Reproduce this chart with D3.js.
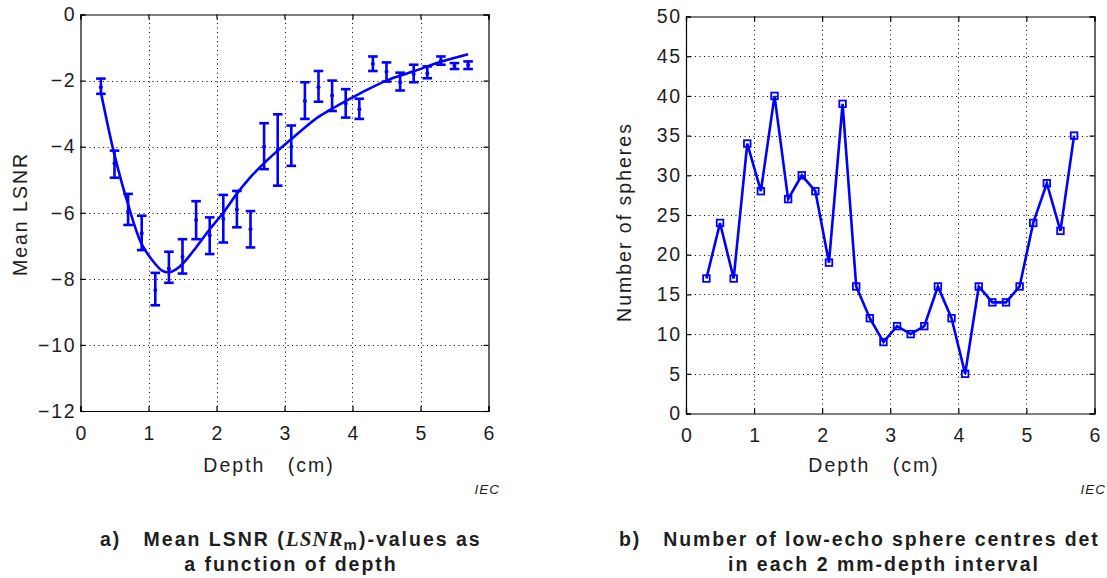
<!DOCTYPE html>
<html>
<head>
<meta charset="utf-8">
<script src="https://cdn.jsdelivr.net/npm/d3@7"></script>
<style>
  html, body { margin: 0; padding: 0; background: #fff; overflow: hidden; }
  svg { display: block; font-family: "Liberation Sans", Arial, sans-serif; }
</style>
</head>
<body>
<svg id="chart" width="1107" height="578"></svg>
<script>
// ---- Panel a: mean LSNR per depth bin, with error bars and fitted curve ----
const depth = [0.3,0.5,0.7,0.9,1.1,1.3,1.5,1.7,1.9,2.1,2.3,2.5,2.7,2.9,3.1,3.3,3.5,3.7,3.9,4.1,4.3,4.5,4.7,4.9,5.1,5.3,5.5,5.7];
const lsnrMean = [-2.2,-4.5,-5.97,-6.62,-8.34,-7.69,-7.33,-6.22,-6.68,-6.19,-5.9,-6.5,-4.0,-4.1,-4.0,-2.62,-2.2,-2.45,-2.69,-2.87,-1.5,-1.73,-2.05,-1.8,-1.78,-1.4,-1.56,-1.53];
const lsnrLow  = [-2.4,-4.94,-6.37,-7.13,-8.8,-8.12,-7.84,-6.8,-7.25,-6.9,-6.44,-7.05,-4.68,-5.18,-4.58,-3.16,-2.64,-2.92,-3.12,-3.16,-1.71,-2.03,-2.3,-2.05,-1.93,-1.52,-1.65,-1.65];
const lsnrHigh = [-1.94,-4.12,-5.43,-6.09,-7.82,-7.18,-6.8,-5.65,-6.14,-5.46,-5.34,-5.95,-3.29,-3.02,-3.36,-2.05,-1.71,-2.0,-2.26,-2.55,-1.27,-1.45,-1.76,-1.52,-1.57,-1.27,-1.47,-1.42];

// Smooth fit through the LSNR means
const fitDepth = [0.3,0.5,0.7,0.9,1.1,1.2,1.3,1.4,1.5,1.7,1.9,2.1,2.3,2.5,2.7,2.9,3.1,3.3,3.5,3.7,3.9,4.1,4.5,4.9,5.3,5.7];
const fitLsnr  = [-2.35,-4.25,-5.75,-6.95,-7.55,-7.75,-7.8,-7.72,-7.55,-7.05,-6.5,-6.0,-5.42,-4.92,-4.5,-4.12,-3.77,-3.42,-3.1,-2.85,-2.62,-2.4,-2.0,-1.72,-1.43,-1.2];

// ---- Panel b: number of detected sphere centres per 2 mm depth interval ----
const sphereCount = [17,24,17,34,28,40,27,30,28,19,39,16,12,9,11,10,11,16,12,5,16,14,14,16,24,29,23,35];

// Tick values
const xTicks = [0,1,2,3,4,5,6];
const yTicksA = [0,-2,-4,-6,-8,-10,-12];
const yTicksB = [0,5,10,15,20,25,30,35,40,45,50];

const BLUE = "#0000ff";
const INK = "#1e1e1e";
const svg = d3.select("#chart");

const fmt = v => (v < 0 ? "\u2212" + Math.abs(v) : String(v));

function panel(xScale, yScale, yTicks) {
  const g = svg.append("g");
  const [x0, x1] = xScale.range();
  const [y0, y1] = yScale.range(); // y0 bottom, y1 top

  // dotted grid
  const grid = g.append("g").attr("stroke", "#000").attr("stroke-width", 1)
    .attr("stroke-dasharray", "1,3.5");
  grid.selectAll(".gx").data(xTicks.slice(1, -1)).join("line")
    .attr("x1", d => Math.round(xScale(d)) + 0.5).attr("x2", d => Math.round(xScale(d)) + 0.5)
    .attr("y1", y0).attr("y2", y1);
  const ye = d3.extent(yScale.domain());
  grid.selectAll(".gy").data(yTicks.filter(t => t !== ye[0] && t !== ye[1])).join("line")
    .attr("y1", d => Math.round(yScale(d)) + 0.5).attr("y2", d => Math.round(yScale(d)) + 0.5)
    .attr("x1", x0).attr("x2", x1);

  // axes with inward ticks
  const axB = g.append("g").attr("transform", `translate(0,${y0})`)
    .call(d3.axisBottom(xScale).tickValues(xTicks).tickSize(-5).tickPadding(15).tickFormat(fmt));
  const axT = g.append("g").attr("transform", `translate(0,${y1})`)
    .call(d3.axisTop(xScale).tickValues(xTicks).tickSize(-5).tickFormat(""));
  const axL = g.append("g").attr("transform", `translate(${x0},0)`)
    .call(d3.axisLeft(yScale).tickValues(yTicks).tickSize(-5).tickPadding(4).tickFormat(fmt));
  const axR = g.append("g").attr("transform", `translate(${x1},0)`)
    .call(d3.axisRight(yScale).tickValues(yTicks).tickSize(-5).tickFormat(""));
  [axB, axT, axL, axR].forEach(a => {
    a.selectAll("path,line").attr("stroke", "#000").attr("stroke-width", 1.2);
    a.selectAll("text").attr("fill", INK).style("font-size", "19.5px")
      .style("letter-spacing", "1.8px")
      .style("font-family", "'Liberation Sans', Arial, sans-serif");
  });
  axB.selectAll("text").attr("dx", "0.9px");
  return g;
}

// ---- Panel a ----
const xA = d3.scaleLinear().domain([0, 6]).range([80.5, 488.5]);
const yA = d3.scaleLinear().domain([-12, 0]).range([411, 14.5]);
const gA = panel(xA, yA, yTicksA);

const fitLine = d3.line().x((d, i) => xA(fitDepth[i])).y(d => yA(d)).curve(d3.curveCatmullRom.alpha(0.5));
gA.append("path").attr("d", fitLine(fitLsnr)).attr("fill", "none")
  .attr("stroke", BLUE).attr("stroke-width", 2.6);

const bars = gA.append("g").attr("stroke", BLUE).attr("stroke-width", 2.6).attr("fill", BLUE);
depth.forEach((d, i) => {
  const cx = xA(d), cap = 4.8;
  bars.append("line").attr("x1", cx).attr("x2", cx).attr("y1", yA(lsnrLow[i])).attr("y2", yA(lsnrHigh[i]));
  bars.append("line").attr("x1", cx - cap).attr("x2", cx + cap).attr("y1", yA(lsnrLow[i])).attr("y2", yA(lsnrLow[i]));
  bars.append("line").attr("x1", cx - cap).attr("x2", cx + cap).attr("y1", yA(lsnrHigh[i])).attr("y2", yA(lsnrHigh[i]));
  bars.append("circle").attr("cx", cx).attr("cy", yA(lsnrMean[i])).attr("r", 2).attr("stroke", "none");
});

// ---- Panel b ----
const xB = d3.scaleLinear().domain([0, 6]).range([686, 1094.5]);
const yB = d3.scaleLinear().domain([0, 50]).range([413.5, 16.5]);
const gB = panel(xB, yB, yTicksB);

const countLine = d3.line().x((d, i) => xB(depth[i])).y(d => yB(d));
gB.append("path").attr("d", countLine(sphereCount)).attr("fill", "none")
  .attr("stroke", BLUE).attr("stroke-width", 2.6).attr("stroke-linejoin", "miter");
gB.append("g").selectAll("rect").data(sphereCount).join("rect")
  .attr("x", (d, i) => xB(depth[i]) - 3.3).attr("y", d => yB(d) - 3.3)
  .attr("width", 6.6).attr("height", 6.6)
  .attr("fill", "none").attr("stroke", BLUE).attr("stroke-width", 1.8);

// ---- Axis titles ----
const lab = svg.append("g").attr("fill", INK).style("font-size", "19.5px").style("letter-spacing", "2px");
lab.append("text").attr("transform", "translate(27,214) rotate(-90)").attr("text-anchor", "middle").text("Mean LSNR");
lab.append("text").attr("x", 269).attr("y", 472).attr("text-anchor", "middle").attr("xml:space", "preserve").text("Depth   (cm)");
lab.append("text").attr("transform", "translate(631,222) rotate(-90)").attr("text-anchor", "middle").text("Number of spheres");
lab.append("text").attr("x", 874).attr("y", 472).attr("text-anchor", "middle").attr("xml:space", "preserve").text("Depth   (cm)");

// IEC marks
const iec = svg.append("g").attr("fill", INK).style("font-size", "13.5px").style("font-style", "italic")
  .style("letter-spacing", "1px").attr("text-anchor", "end");
iec.append("text").attr("x", 500).attr("y", 494).text("IEC");
iec.append("text").attr("x", 1106).attr("y", 494).text("IEC");

// ---- Captions ----
const cap = svg.append("g").attr("fill", INK).style("font-size", "19.5px").style("font-weight", "bold")
  .style("letter-spacing", "2px").style("font-family", "'Liberation Sans', Arial, sans-serif");
const c1 = cap.append("text").attr("x", 100).attr("y", 546).attr("xml:space", "preserve");
c1.append("tspan").text("a)   Mean LSNR (");
c1.append("tspan").style("font-family", "'Liberation Serif', 'Times New Roman', serif").style("font-style", "italic")
  .style("font-size", "21px").style("letter-spacing", "1px").text("LSNR");
c1.append("tspan").attr("dy", 4).style("font-size", "15px").text("m");
c1.append("tspan").attr("dy", -4).text(")-values as");
cap.append("text").attr("x", 291).attr("y", 571).attr("text-anchor", "middle").text("a function of depth");
cap.append("text").attr("x", 619).attr("y", 546).attr("xml:space", "preserve").style("letter-spacing", "1.9px")
  .text("b)   Number of low-echo sphere centres det");
cap.append("text").attr("x", 884).attr("y", 571).attr("text-anchor", "middle").text("in each 2 mm-depth interval");
</script>
</body>
</html>
